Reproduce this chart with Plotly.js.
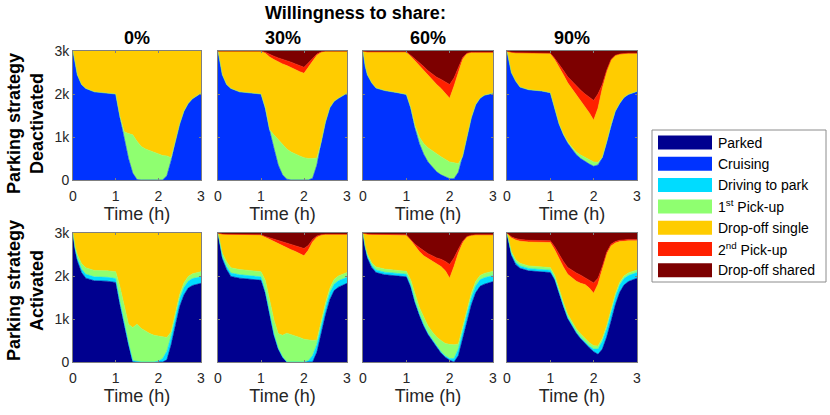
<!DOCTYPE html>
<html>
<head>
<meta charset="utf-8">
<script src="https://cdn.plot.ly/plotly-3.0.1.min.js"></script>
<style>html,body{margin:0;padding:0;background:#fff}#chart{width:830px;height:415px}</style>
</head>
<body>
<div id="chart"></div>
<script>
// ---------------- DATA ----------------
const time = [0,0.05,0.1,0.2,0.3,0.5,0.8,1.0,1.1,1.2,1.3,1.4,1.5,1.6,1.7,1.8,1.9,2.0,2.1,2.2,2.3,2.4,2.5,2.6,2.7,2.8,3.0];

const stateNames = ['Parked','Cruising','Driving to park','1st Pick-up','Drop-off single','2nd Pick-up','Drop-off shared'];
const legendLabels = ['Parked','Cruising','Driving to park','1<sup>st</sup> Pick-up','Drop-off single','2<sup>nd</sup> Pick-up','Drop-off shared'];
const shareLevels = ['0%','30%','60%','90%'];
const rowLabels = ['Parking strategy<br>Deactivated','Parking strategy<br>Activated'];
const xTicks = [0,1,2,3];
const yTicks = [0,1000,2000,3000];
const yTickText = ['0','1k','2k','3k'];

// Parking strategy deactivated
const d0Cruising    = [3000,2700,2450,2220,2130,2050,2030,2000,1450,1000,500,160,10,0,0,0,0,0,0,100,450,900,1300,1600,1780,1890,2020];
const d0Pick1       = [0,0,0,0,0,0,0,0,30,120,580,890,890,780,720,680,640,600,570,460,70,0,0,0,0,0,0];
const d0DropSingle  = [0,300,550,780,870,950,970,1000,1520,1880,1920,1950,2100,2220,2280,2320,2360,2400,2430,2440,2480,2100,1700,1400,1220,1110,980];

const d30Cruising   = [3000,2700,2450,2220,2130,2050,2030,2000,1650,1150,740,350,120,20,0,0,0,0,0,40,350,880,1350,1680,1830,1900,2020];
const d30Pick1      = [0,0,0,0,0,0,0,0,30,20,310,590,700,700,650,600,560,520,500,460,160,0,0,0,0,0,0];
const d30DropSingle = [0,300,550,780,870,950,970,1000,1270,1690,1750,1800,1880,1940,1960,1970,1960,1960,2120,2260,2390,2090,1650,1320,1170,1100,980];
const d30Pick2      = [0,0,0,0,0,0,0,0,20,60,80,100,110,120,130,130,140,140,100,60,30,10,0,0,0,0,0];
const d30DropShared = [0,0,0,0,0,0,0,0,30,80,120,160,190,220,260,300,340,380,280,180,70,20,0,0,0,0,0];

const d60Cruising   = [3000,2650,2450,2260,2140,2080,2030,1990,1670,1200,850,600,420,300,190,120,70,30,30,180,550,1000,1450,1750,1900,1970,2020];
const d60Pick1      = [0,0,0,0,0,0,0,0,20,60,150,250,330,390,420,420,400,390,370,200,0,0,0,0,0,0,0];
const d60DropSingle = [0,340,530,720,840,900,950,990,1190,1510,1660,1700,1680,1630,1610,1590,1550,1480,1780,2140,2260,1940,1520,1220,1070,1000,950];
const d60Pick2      = [0,0,0,0,0,0,0,0,20,50,70,90,110,140,170,210,260,320,190,100,40,10,0,0,0,0,0];
const d60DropShared = [0,10,20,20,20,20,20,20,100,180,270,360,460,540,610,660,720,780,630,380,150,50,30,30,30,30,30];

const d90Cruising   = [3000,2760,2500,2300,2160,2100,2070,2030,1670,1300,1050,860,720,590,500,430,370,320,350,520,880,1280,1600,1780,1920,1990,2060];
const d90Pick1      = [0,0,0,0,0,0,0,0,0,10,20,30,40,60,80,90,100,100,60,10,0,0,0,0,0,0,0];
const d90DropSingle = [0,220,470,660,800,860,890,920,1130,1330,1380,1370,1360,1320,1260,1190,1090,970,1260,1600,1640,1510,1300,1150,1020,960,890];
const d90Pick2      = [0,0,0,0,0,0,0,0,30,60,100,140,170,210,250,290,370,460,330,90,30,10,0,0,0,0,0];
const d90DropShared = [0,20,30,40,40,40,40,50,170,300,450,600,710,820,910,1000,1070,1150,1000,780,450,200,100,70,60,50,50];

// Parking strategy activated
const a0Parked      = [3000,2600,2350,2080,1950,1890,1880,1850,1330,830,400,0,0,0,0,0,0,0,0,50,400,850,1290,1560,1720,1780,1830];
const a0DrivePark   = [0,30,60,80,90,90,90,90,60,50,40,30,10,0,0,0,0,20,80,200,200,190,180,170,160,160,150];
const a0Pick1       = [0,50,90,130,150,150,150,160,360,400,440,770,870,780,710,660,620,580,500,320,100,100,100,110,110,110,120];
const a0DropSingle  = [0,320,500,710,810,870,880,900,1250,1720,2120,2200,2120,2220,2290,2340,2380,2400,2420,2430,2300,1860,1430,1160,1010,950,900];

const a30Parked     = [3000,2650,2400,2150,1990,1950,1920,1900,1600,1100,620,300,110,0,0,0,0,0,0,0,230,680,1100,1450,1660,1740,1830];
const a30DrivePark  = [0,30,50,70,80,80,80,80,40,30,30,20,10,0,0,0,0,0,30,150,180,180,170,160,150,150,140];
const a30Pick1      = [0,40,80,110,120,120,120,120,260,320,330,340,500,670,640,600,570,530,490,350,100,100,100,100,110,110,110];
const a30DropSingle = [0,265,440,635,775,815,845,855,1000,1400,1820,2090,2080,1990,1970,1970,1950,1940,2080,2290,2390,1990,1600,1260,1050,970,890];
const a30Pick2      = [0,0,5,5,5,5,5,5,20,40,60,80,100,110,120,130,150,170,110,60,30,10,0,0,0,0,0];
const a30DropShared = [0,15,25,30,30,30,30,40,80,110,140,170,200,230,270,300,330,360,290,150,70,40,30,30,30,30,30];

const a60Parked     = [3000,2650,2420,2200,2080,2030,2000,1980,1750,1380,1090,840,640,480,350,210,110,40,0,150,550,950,1330,1610,1760,1810,1870];
const a60DrivePark  = [0,20,40,50,60,60,60,60,40,30,30,30,30,30,30,30,30,40,80,150,180,180,170,160,150,150,140];
const a60Pick1      = [0,30,50,60,70,70,70,70,120,150,150,180,170,190,200,260,290,330,320,120,100,100,100,100,100,100,100];
const a60DropSingle = [0,285,455,650,750,800,830,840,920,1140,1300,1420,1570,1650,1700,1720,1690,1540,1820,2110,1940,1680,1350,1090,950,900,850];
const a60Pick2      = [0,0,10,10,10,10,10,10,20,40,90,110,110,120,140,170,220,320,200,90,40,10,0,0,0,0,0];
const a60DropShared = [0,15,25,30,30,30,30,40,150,260,340,420,480,530,580,610,660,730,580,380,190,80,50,40,40,40,40];

const a90Parked     = [3000,2750,2480,2270,2180,2120,2100,2080,1910,1590,1290,1010,830,670,540,430,330,240,180,300,580,950,1330,1620,1790,1870,1950];
const a90DrivePark  = [0,20,40,50,55,55,55,55,40,30,30,30,30,30,30,30,40,60,120,180,200,200,190,170,150,140,130];
const a90Pick1      = [0,30,50,60,60,60,60,60,70,70,70,70,70,70,80,80,80,80,70,70,60,60,60,60,60,60,60];
const a90DropSingle = [0,140,320,460,515,555,565,585,590,710,820,930,1020,1110,1180,1260,1270,1220,1440,1590,1670,1490,1190,950,810,750,680];
const a90Pick2      = [0,10,20,30,40,40,40,40,70,100,130,160,180,190,190,160,170,240,140,80,40,40,30,30,30,30,30];
const a90DropShared = [0,50,90,130,150,170,180,180,320,500,660,800,870,930,980,1040,1110,1160,1050,780,450,260,200,170,160,150,150];

// ---------------- STYLE ----------------
const stateColors = {
  'Parked':'#00008f','Cruising':'#0033ff','Driving to park':'#00dcff','1st Pick-up':'#8fff70',
  'Drop-off single':'#ffcc00','2nd Pick-up':'#ff2000','Drop-off shared':'#7d0000'
};
const panels = [
  {'Cruising':d0Cruising,'1st Pick-up':d0Pick1,'Drop-off single':d0DropSingle},
  {'Cruising':d30Cruising,'1st Pick-up':d30Pick1,'Drop-off single':d30DropSingle,'2nd Pick-up':d30Pick2,'Drop-off shared':d30DropShared},
  {'Cruising':d60Cruising,'1st Pick-up':d60Pick1,'Drop-off single':d60DropSingle,'2nd Pick-up':d60Pick2,'Drop-off shared':d60DropShared},
  {'Cruising':d90Cruising,'1st Pick-up':d90Pick1,'Drop-off single':d90DropSingle,'2nd Pick-up':d90Pick2,'Drop-off shared':d90DropShared},
  {'Parked':a0Parked,'Driving to park':a0DrivePark,'1st Pick-up':a0Pick1,'Drop-off single':a0DropSingle},
  {'Parked':a30Parked,'Driving to park':a30DrivePark,'1st Pick-up':a30Pick1,'Drop-off single':a30DropSingle,'2nd Pick-up':a30Pick2,'Drop-off shared':a30DropShared},
  {'Parked':a60Parked,'Driving to park':a60DrivePark,'1st Pick-up':a60Pick1,'Drop-off single':a60DropSingle,'2nd Pick-up':a60Pick2,'Drop-off shared':a60DropShared},
  {'Parked':a90Parked,'Driving to park':a90DrivePark,'1st Pick-up':a90Pick1,'Drop-off single':a90DropSingle,'2nd Pick-up':a90Pick2,'Drop-off shared':a90DropShared}
];

const W = 830, H = 415;
const px = v => v / W;
const py = v => 1 - v / H;
const colX = [[73,201],[218,347],[363,493],[507,637]];
const rowY = [[51,180],[233,362]];
const FONT = 'Liberation Sans, Arial, Helvetica, sans-serif';
const TXT = '#262626';

const traces = [];
const layout = {
  width: W, height: H, margin: {l:0,r:0,t:0,b:0}, autosize: false,
  paper_bgcolor: '#fff', plot_bgcolor: '#fff', showlegend: false,
  font: {family: FONT, color: TXT}, annotations: [], shapes: []
};

panels.forEach((series, i) => {
  const row = Math.floor(i / 4), col = i % 4, k = i + 1;
  const xa = 'x' + (k === 1 ? '' : k), ya = 'y' + (k === 1 ? '' : k);
  stateNames.forEach(name => {
    if (!series[name]) return;
    traces.push({
      type: 'scatter', mode: 'lines', x: time, y: series[name], name: name,
      xaxis: xa, yaxis: ya, stackgroup: 'g' + k,
      line: {width: 0.6, color: stateColors[name], shape: 'linear'},
      fillcolor: stateColors[name], hoverinfo: 'skip'
    });
  });
  const common = {showgrid:false, zeroline:false, showline:true, linecolor:'#7f7f7f', linewidth:1,
    mirror:'ticks', ticks:'inside', ticklen:2, tickcolor:'#7f7f7f', tickfont:{size:14, color:TXT, family:FONT}, fixedrange:true};
  layout['xaxis' + (k === 1 ? '' : k)] = Object.assign({}, common, {
    domain: [px(colX[col][0]), px(colX[col][1])], anchor: ya, range: [0,3], tickvals: xTicks,
    ticklabelstandoff: 3,
    title: {text: 'Time (h)', font: {size: 18, color: TXT, family: FONT}, standoff: 4}
  });
  layout['yaxis' + (k === 1 ? '' : k)] = Object.assign({}, common, {
    domain: [py(rowY[row][1]), py(rowY[row][0])], anchor: xa, range: [0,3000],
    tickvals: yTicks, ticktext: yTickText, showticklabels: col === 0
  });
});

// column titles
shareLevels.forEach((s, c) => {
  layout.annotations.push({text: '<b>' + s + '</b>', xref:'paper', yref:'paper',
    x: px((colX[c][0] + colX[c][1]) / 2), y: py(38), xanchor:'center', yanchor:'middle',
    showarrow:false, font:{size:18, color:'#000', family:FONT}});
});
layout.annotations.push({text: '<b>Willingness to share:</b>', xref:'paper', yref:'paper',
  x: px(355), y: py(13), xanchor:'center', yanchor:'middle', showarrow:false,
  font:{size:18, color:'#000', family:FONT}});
// row labels
rowLabels.forEach((t, r) => {
  layout.annotations.push({text: '<b>' + t + '</b>', xref:'paper', yref:'paper',
    x: px(25), y: py(r === 0 ? 124 : 291), xanchor:'center', yanchor:'middle', textangle:-90,
    showarrow:false, font:{size:18, color:'#000', family:FONT}});
});

// legend (drawn as a box with colour swatches)
layout.shapes.push({type:'rect', xref:'paper', yref:'paper', x0:px(652), x1:px(826), y0:py(282), y1:py(130),
  line:{color:'#8c8c8c', width:1}, fillcolor:'#fff', layer:'above'});
stateNames.forEach((name, j) => {
  const cy = 142.5 + j * 21.3;
  layout.shapes.push({type:'rect', xref:'paper', yref:'paper', x0:px(658), x1:px(712), y0:py(cy + 7), y1:py(cy - 7),
    line:{width:0}, fillcolor:stateColors[name], layer:'above'});
  layout.annotations.push({text: legendLabels[j], xref:'paper', yref:'paper', x:px(716), y:py(cy),
    xanchor:'left', yanchor:'middle', showarrow:false, font:{size:14, color:'#000', family:FONT}});
});

Plotly.newPlot('chart', traces, layout, {displayModeBar:false, staticPlot:true});
</script>
</body>
</html>
